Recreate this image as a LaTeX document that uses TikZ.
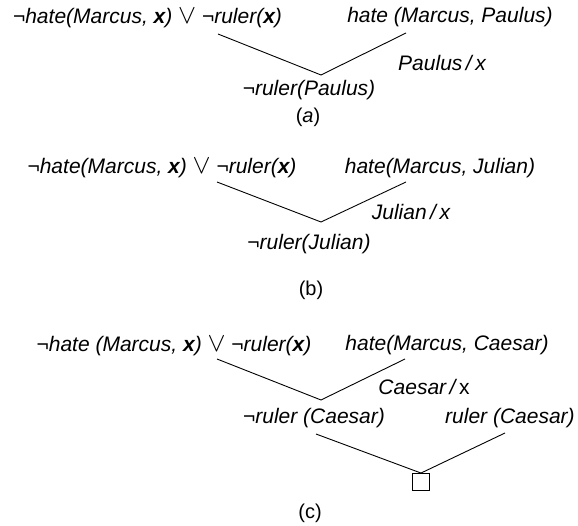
\documentclass[tikz,border=0pt]{standalone}
\usepackage{fontspec}
\usepackage{graphicx}
\setmainfont{Liberation Sans}
\usetikzlibrary{positioning}
\newcommand{\bigor}{\scalebox{1.3}{$\vee$}}

\begin{document}
\begin{tikzpicture}[x=1pt, y=-1pt, line width=0.9pt,
  clause/.style={inner sep=0pt, font=\fontsize{21}{25}\selectfont\itshape},
  caption/.style={inner sep=0pt, font=\fontsize{20}{24}\selectfont}]
  \useasboundingbox (0,0) rectangle (578,526);
  % (a)
  \coordinate (a1s) at (218,34);
  \coordinate (a2s) at (406,33);
  \coordinate (av) at (321,75);
  \draw (a1s) -- (av);
  \draw (a2s) -- (av);
  \node[clause] (a1) at (147.5,18) {¬hate(Marcus, \textbf{x}) \bigor{} ¬ruler(\textbf{x})};
  \node[clause] (a2) at (450,17) {hate (Marcus, Paulus)};
  \node[clause] (a3) at (442,63) {Paulus\,/\,x};
  \node[clause] (a4) at (309,90) {¬ruler(Paulus)};
  \node[caption] (acap) at (308,117) {(\textit{a})};
  % (b)
  \coordinate (b1s) at (217,182);
  \coordinate (b2s) at (406,182);
  \coordinate (bv) at (321,222);
  \draw (b1s) -- (bv);
  \draw (b2s) -- (bv);
  \node[clause] (b1) at (162,168) {¬hate(Marcus, \textbf{x}) \bigor{} ¬ruler(\textbf{x})};
  \node[clause] (b2) at (440,168) {hate(Marcus, Julian)};
  \node[clause] (b3) at (411,212) {Julian\,/\,x};
  \node[clause] (b4) at (309,244) {¬ruler(Julian)};
  \node[caption] (bcap) at (311,290) {(b)};
  % (c)
  \coordinate (c1s) at (217,359);
  \coordinate (c2s) at (405,359);
  \coordinate (cv) at (321,400);
  \coordinate (c4s) at (316,434);
  \coordinate (c5s) at (505,433);
  \draw (c1s) -- (cv);
  \draw (c2s) -- (cv);
  \node[clause] (c1) at (174,346) {¬hate (Marcus, \textbf{x}) \bigor{} ¬ruler(\textbf{x})};
  \node[clause] (c2) at (447,345) {hate(Marcus, Caesar)};
  \node[clause] (c3) at (424,387) {Caesar\,/\,\textup{x}};
  \node[clause] (c4) at (314,418) {¬ruler (Caesar)};
  \node[clause] (c5) at (510,418) {ruler (Caesar)};
  \node[draw, minimum size=17pt, inner sep=0pt] (empty) at (421,482) {};
  \draw (c4s) -- (empty.north);
  \draw (c5s) -- (empty.north);
  \node[caption] (ccap) at (310,513) {(c)};
\end{tikzpicture}
\end{document}
